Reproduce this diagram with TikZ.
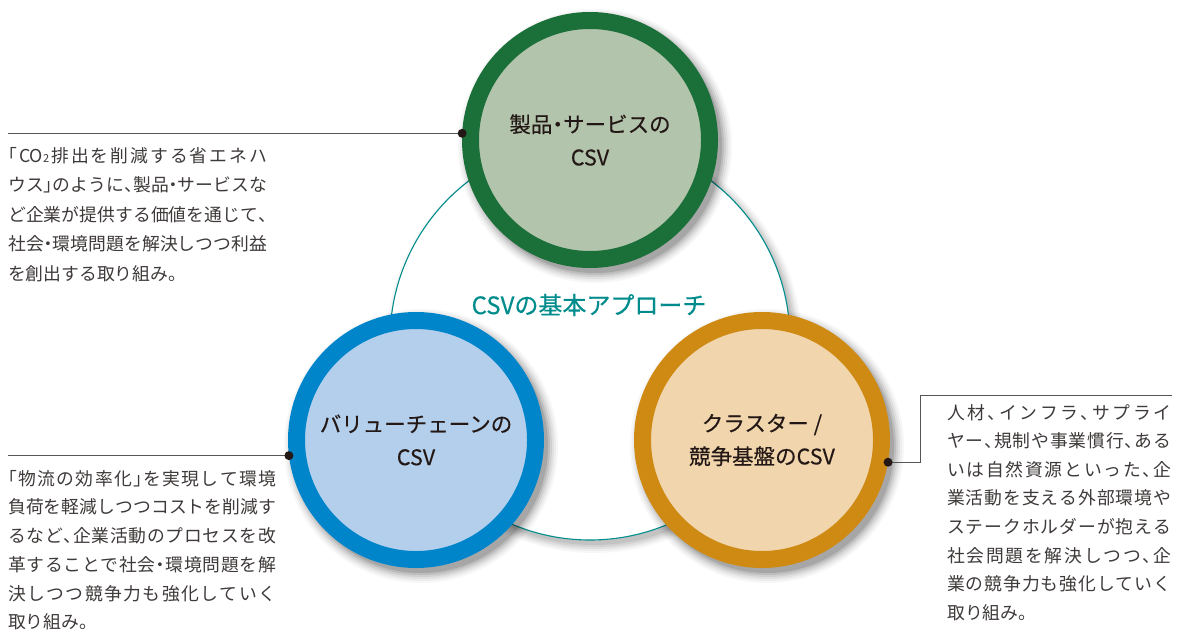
\documentclass[tikz,border=0pt]{standalone}
\usepackage{fontspec}
\setmainfont{Noto Sans CJK JP}[RawFeature=+halt]
\newfontfamily\labelfont{Noto Sans CJK JP}[RawFeature=+halt, FakeBold=0.35]
\makeatletter
\newcommand{\jline}[2]{\makebox[#1][s]{\@tfor\jl@c:=#2\do{\jl@c\hskip 0pt plus 1pt minus 1pt}\unskip}}
\makeatother
\newcommand{\cotwo}{CO{\fontsize{11}{11}\selectfont 2}}
\definecolor{ringgreen}{HTML}{1B6F38}
\definecolor{innergreen}{HTML}{B3C4AD}
\definecolor{ringblue}{HTML}{0085CA}
\definecolor{innerblue}{HTML}{B3CFEC}
\definecolor{ringorange}{HTML}{CF8A13}
\definecolor{innerorange}{HTML}{F0D5AD}
\definecolor{tealline}{HTML}{008C8C}
\definecolor{labeltext}{HTML}{231815}
\definecolor{desctext}{HTML}{3E3A39}
\definecolor{rulecol}{HTML}{555555}
\begin{document}
\begin{tikzpicture}[x=1pt,y=-1pt,
  ring/.style={circle, draw=#1, line width=17pt, minimum size=239pt, inner sep=0pt,
    align=center, text=labeltext, font=\labelfont\fontsize{21.5}{33}\selectfont},
  desc/.style={anchor=north west, inner sep=0pt, align=left, text=desctext},
  rule/.style={draw=rulecol, line width=0.9pt},
  dot/.style={fill=labeltext}]
\useasboundingbox[fill=white] (0,0) rectangle (1180,632);
% big circle shadow
\foreach \r/\o in {208/0.03,206/0.04,204/0.05,202/0.06,200/0.07}
  \fill[black,opacity=\o] (594,345) circle[radius=\r pt];
\node[circle, draw=tealline, line width=1.1pt, fill=white, minimum size=400pt, inner sep=0pt] (big) at (590,340) {};
\node[text=tealline, font=\labelfont\fontsize{24}{28}\selectfont] (title) at (589,305) {CSVの基本アプローチ};
% circle shadows
\foreach \cx/\cy in {590/140,416/440,762/440}{
  \foreach \r/\o in {137/0.03,135/0.04,133/0.05,131/0.07,129/0.09,127/0.12}
    \fill[black,opacity=\o] (\cx+5,\cy+6) circle[radius=\r pt];
}
\node[ring=ringgreen, fill=innergreen] (top) at (590,140) {製品・サービスの\\CSV};
\node[ring=ringblue, fill=innerblue] (bl) at (416,440) {バリューチェーンの\\CSV};
\node[ring=ringorange, fill=innerorange] (br) at (762,440) {クラスター /\\競争基盤のCSV};
% connectors
\coordinate (tlend) at (8,133);
\coordinate (blend) at (8,455);
\coordinate (rcorner) at (920,395);
\coordinate (rend) at (1172,395);
\draw[rule] (top.177) -- (top.177 -| tlend);
\draw[rule] (bl.187) -- (bl.187 -| blend);
\draw[rule] (br.350.5) -- (br.350.5 -| rcorner) -- (rcorner) -- (rend);
\fill[dot] (top.177) circle[radius=4.5pt];
\fill[dot] (bl.187) circle[radius=4.5pt];
\fill[dot] (br.350.5) circle[radius=4.5pt];
% descriptions
\node[desc, font=\fontsize{17.8}{29.5}\selectfont] (d1) at (8,147) {%
\jline{259pt}{「\cotwo 排出を削減する省エネハ}\\
\jline{259pt}{ウス」のように、製品・サービスな}\\
\jline{259pt}{ど企業が提供する価値を通じて、}\\
\jline{259pt}{社会・環境問題を解決しつつ利益}\\
を創出する取り組み。};
\node[desc, font=\fontsize{17.8}{28.7}\selectfont] (d2) at (8,470) {%
\jline{268pt}{「物流の効率化」を実現して環境}\\
\jline{268pt}{負荷を軽減しつつコストを削減す}\\
\jline{268pt}{るなど、企業活動のプロセスを改}\\
\jline{268pt}{革することで社会・環境問題を解}\\
\jline{268pt}{決しつつ競争力も強化していく}\\
取り組み。};
\node[desc, font=\fontsize{17.8}{28.6}\selectfont] (d3) at (947,404) {%
\jline{224pt}{人材、インフラ、サプライ}\\
\jline{224pt}{ヤー、規制や事業慣行、ある}\\
\jline{224pt}{いは自然資源といった、企}\\
\jline{224pt}{業活動を支える外部環境や}\\
\jline{224pt}{ステークホルダーが抱える}\\
\jline{224pt}{社会問題を解決しつつ、企}\\
\jline{224pt}{業の競争力も強化していく}\\
取り組み。};
\end{tikzpicture}
\end{document}
